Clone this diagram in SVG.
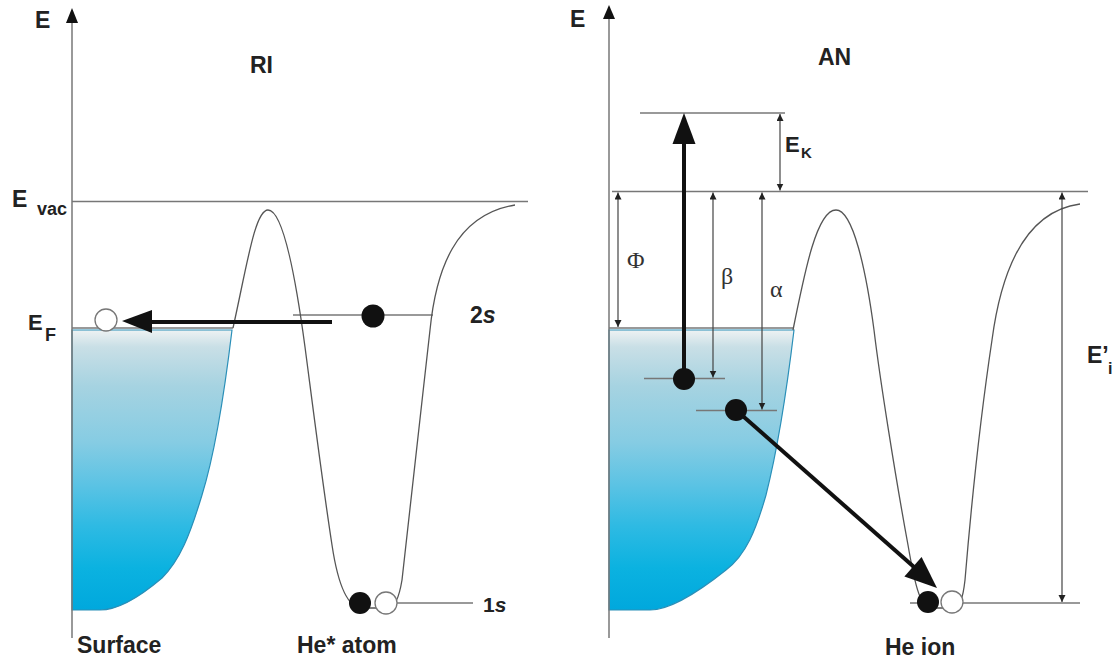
<svg xmlns="http://www.w3.org/2000/svg" width="1117" height="660" viewBox="0 0 1117 660">
<style>
.lbl{font-family:"Liberation Sans",Arial,sans-serif;font-weight:bold;fill:#222}
.gr{font-family:"Liberation Serif","Times New Roman",serif;fill:#333}
.lvl{stroke:#777;stroke-width:1.5;fill:none}
.curve{stroke:#555;stroke-width:1.3;fill:none}
.dim{stroke:#444;stroke-width:1.2;fill:none;marker-start:url(#sa);marker-end:url(#sa)}
.thick{stroke:#111;stroke-width:4;fill:none}
.ball{fill:#111}
.hole{fill:#fff;stroke:#777;stroke-width:1.3}
.fill{fill:url(#band);stroke:#2a8fb8;stroke-width:1.2}
</style>
<defs>
<linearGradient id="band" x1="0" y1="0" x2="0" y2="1">
<stop offset="0" stop-color="#eef2f3"/>
<stop offset="0.06" stop-color="#c9dfe6"/>
<stop offset="0.2" stop-color="#a6d3e1"/>
<stop offset="0.4" stop-color="#86cce3"/>
<stop offset="0.55" stop-color="#5cc3e4"/>
<stop offset="0.7" stop-color="#2ebae3"/>
<stop offset="0.85" stop-color="#0bb2e0"/>
<stop offset="1" stop-color="#00a8dd"/>
</linearGradient>
<marker id="sa" markerUnits="userSpaceOnUse" markerWidth="8" markerHeight="8" refX="7" refY="3.5" orient="auto-start-reverse">
<path d="M0,0 L7,3.5 L0,7 z" fill="#222"/>
</marker>
</defs>
<rect width="1117" height="660" fill="#fff"/>

<g id="panel-RI">
<g id="surface-left">
<path class="fill" d="M72,330 L232,330 C226,380 216,450 202,495 C190,535 180,560 162,578 C142,595 120,610 100,610 L72,610 Z"/>
</g>
<g id="axis-left">
<line class="lvl" x1="72" y1="20" x2="72" y2="638"/>
<polygon points="72,8 66,23 78,23" fill="#111"/>
</g>
<g id="levels-left">
<line class="lvl" x1="72" y1="201.5" x2="528" y2="201.5"/>
<line class="lvl" x1="72" y1="328" x2="233" y2="328"/>
<line class="lvl" x1="293" y1="315" x2="433" y2="315"/>
<line class="lvl" x1="397" y1="603" x2="473" y2="603"/>
</g>
<g id="potential-left">
<path class="curve" d="M233,328 C247,265 255,210 268,210 C283,210 296,280 305,347 C312,400 322,480 332,545 C338,585 348,608 362,608 L386,608 C395,608 399,598 402,580 C408,520 420,420 430,330 C436,270 455,215 515,205"/>
</g>
<g id="electrons-left">
<circle class="ball" cx="373" cy="316" r="11.5"/>
<circle class="hole" cx="106" cy="320" r="11"/>
<circle class="ball" cx="360" cy="603" r="11"/>
<circle class="hole" cx="386" cy="603" r="11"/>
</g>
<g id="labels-left">
<text class="lbl" x="35" y="28" font-size="23">E</text>
<text class="lbl" x="250" y="73" font-size="23">RI</text>
<text class="lbl" x="12" y="207" font-size="23">E</text>
<text class="lbl" x="37" y="215" font-size="18">vac</text>
<text class="lbl" x="28" y="330" font-size="22">E</text>
<text class="lbl" x="45" y="341" font-size="18">F</text>
<text class="lbl" x="470" y="323" font-size="23">2<tspan font-style="italic">s</tspan></text>
<text class="lbl" x="483" y="612" font-size="21">1<tspan font-style="italic">s</tspan></text>
<text class="lbl" x="77" y="653" font-size="23">Surface</text>
<text class="lbl" x="297" y="653" font-size="23">He* atom</text>
</g>
</g>

<g id="panel-AN">
<g id="surface-right">
<path class="fill" d="M609,330 L794,330 C788,380 780,440 766,495 C756,530 746,555 726,570 C701,590 670,610 650,610 L609,610 Z"/>
</g>
<g id="axis-right">
<line class="lvl" x1="609" y1="15" x2="609" y2="638"/>
<polygon points="609,5 603,19 615,19" fill="#111"/>
</g>
<g id="levels-right">
<line class="lvl" x1="612" y1="191.5" x2="1088" y2="191.5"/>
<line class="lvl" x1="640" y1="113" x2="785" y2="113"/>
<line class="lvl" x1="609" y1="328" x2="793" y2="328"/>
<line class="lvl" x1="644" y1="378.5" x2="725" y2="378.5"/>
<line class="lvl" x1="696" y1="410.5" x2="777" y2="410.5"/>
<line class="lvl" x1="910" y1="603" x2="928" y2="603"/>
<line class="lvl" x1="962" y1="603" x2="1080" y2="603"/>
</g>
<g id="potential-right">
<path class="curve" d="M793,330 C805,270 817,210 836,210 C853,210 866,270 874,330 C880,380 896,480 908,545 C914,580 920,608 930,608 L952,608 C960,608 963,598 965,580 C970,520 980,420 992,340 C1000,280 1020,212 1080,204"/>
</g>
<g id="connectors">
<line class="dim" x1="780" y1="114" x2="780" y2="190.5"/>
<line class="dim" x1="618" y1="192.5" x2="618" y2="327"/>
<line class="dim" x1="713" y1="192.5" x2="713" y2="377.5"/>
<line class="dim" x1="762" y1="192.5" x2="762" y2="409.5"/>
<line class="dim" x1="1062" y1="192.5" x2="1062" y2="602"/>
<line class="thick" x1="332" y1="322" x2="148" y2="322"/>
<polygon points="122,321 152,310 152,333" fill="#111"/>
<line class="thick" x1="684" y1="379" x2="684" y2="140"/>
<polygon points="684,113 672.5,144 695.5,144" fill="#111"/>
<line class="thick" x1="736" y1="410" x2="914" y2="567"/>
<polygon points="937,588 904.4,576.5 921.6,557.1" fill="#111"/>
</g>
<g id="electrons-right">
<circle class="ball" cx="684" cy="379" r="11"/>
<circle class="ball" cx="736" cy="410" r="11"/>
<circle class="ball" cx="928" cy="602" r="11"/>
<circle class="hole" cx="952" cy="602" r="11"/>
</g>
<g id="labels-right">
<text class="lbl" x="570" y="27" font-size="23">E</text>
<text class="lbl" x="818" y="65" font-size="23">AN</text>
<text class="lbl" x="785" y="152" font-size="22">E</text>
<text class="lbl" x="801" y="158" font-size="15">K</text>
<text class="gr" x="627" y="268" font-size="24">Φ</text>
<text class="gr" x="721" y="284" font-size="24">β</text>
<text class="gr" x="770" y="297" font-size="24">α</text>
<text class="lbl" x="1087" y="363" font-size="23">E’</text>
<text class="lbl" x="1108" y="374" font-size="16">i</text>
<text class="lbl" x="885" y="655" font-size="23">He ion</text>
</g>
</g>
</svg>
